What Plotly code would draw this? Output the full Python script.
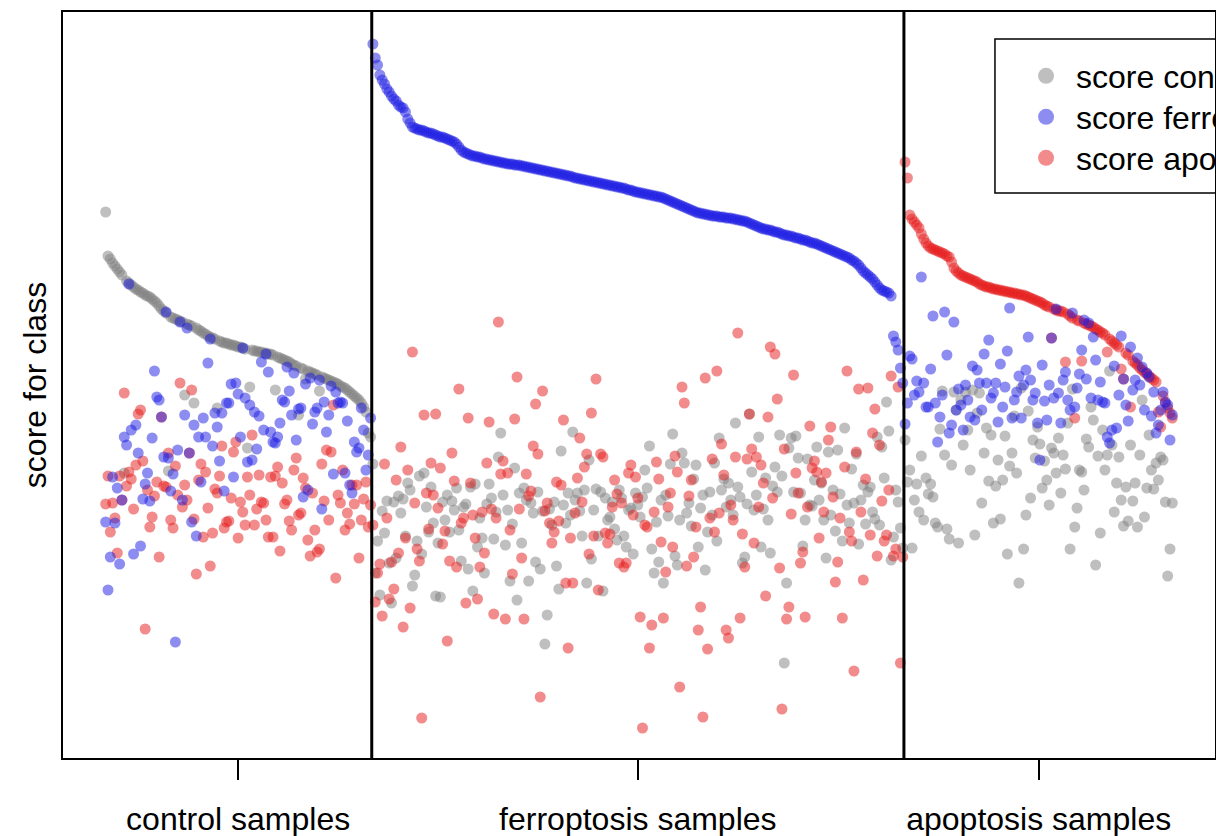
import plotly.graph_objects as go

# ---------------- data ----------------
group_labels = ["control samples", "ferroptosis samples", "apoptosis samples"]
series_labels = ["score control", "score ferroptosis", "score apoptosis"]
series_colors = ["rgba(128,128,128,0.5)", "rgba(28,28,228,0.5)", "rgba(230,25,25,0.5)"]

# control samples (sorted by control score)
ctrl_score_control = [
    546, 502, 499, 495, 492, 489, 486, 483, 285, 477,
    475, 473, 471, 469, 468, 466, 465, 463, 462, 461,
    459, 457, 455, 452, 449, 447, 445, 287, 441, 440,
    439, 438, 437, 436, 363, 434, 433, 432, 355, 430,
    428, 427, 425, 424, 422, 421, 420, 419, 350, 417,
    416, 415, 415, 414, 413, 413, 412, 411, 411, 410,
    409, 310, 371, 408, 407, 407, 406, 406, 405, 405,
    404, 404, 403, 368, 401, 400, 399, 398, 397, 396,
    394, 393, 392, 343, 390, 389, 379, 387, 386, 385,
    384, 383, 367, 381, 380, 379, 378, 377, 376, 375,
    374, 372, 371, 370, 368, 366, 364, 362, 360, 358,
    355, 351, 346, 325, 321]
ctrl_score_ferroptosis = [
    236, 168, 201, 281, 235, 270, 194, 258, 321, 313,
    474, 328, 204, 333, 305, 212, 259, 274, 285, 257,
    320, 387, 361, 358, 341, 301, 446, 300, 267, 284,
    116, 308, 436, 258, 343, 430, 305, 236, 333, 222,
    321, 276, 340, 321, 395, 419, 312, 345, 331, 297,
    345, 267, 355, 355, 374, 281, 375, 364, 321, 410,
    360, 296, 353, 298, 346, 309, 342, 396, 328, 404,
    386, 326, 316, 315, 321, 335, 358, 356, 391, 367,
    343, 385, 318, 349, 350, 261, 374, 268, 380, 334,
    346, 350, 378, 249, 356, 326, 343, 372, 284, 366,
    355, 356, 355, 285, 337, 273, 265, 316, 306, 310,
    350, 328, 288, 303, 340]
ctrl_score_apoptosis = [
    254, 282, 226, 255, 240, 205, 282, 258, 365, 272,
    286, 279, 249, 293, 344, 348, 297, 129, 268, 231,
    241, 262, 276, 201, 341, 272, 271, 305, 238, 230,
    292, 263, 375, 251, 273, 258, 305, 368, 239, 184,
    278, 294, 221, 286, 250, 192, 225, 269, 265, 282,
    312, 230, 236, 237, 260, 306, 316, 220, 256, 246,
    233, 281, 263, 323, 233, 249, 283, 256, 255, 238,
    221, 281, 221, 282, 291, 207, 275, 254, 258, 237,
    228, 288, 300, 243, 245, 280, 270, 218, 202, 265,
    228, 206, 209, 294, 257, 308, 238, 306, 353, 180,
    263, 255, 288, 228, 245, 234, 273, 254, 273, 200,
    238, 259, 276, 231, 253]

# ferroptosis samples (sorted by ferroptosis score)
ferro_score_control = [
    294, 185, 217, 163, 247, 225, 257, 195, 155, 256,
    200, 262, 245, 259, 222, 275, 268, 172, 183, 217,
    282, 204, 285, 251, 226, 271, 235, 162, 215, 161,
    256, 238, 263, 226, 257, 248, 270, 228, 197, 251,
    254, 189, 271, 167, 274, 211, 240, 220, 185, 254,
    274, 260, 219, 246, 301, 325, 263, 213, 248, 177,
    234, 290, 158, 265, 215, 270, 258, 177, 255, 245,
    196, 266, 189, 247, 114, 143, 249, 233, 256, 192,
    169, 307, 253, 235, 265, 243, 326, 258, 265, 247,
    222, 268, 175, 298, 199, 248, 269, 222, 266, 167,
    260, 238, 241, 256, 229, 218, 268, 260, 222, 211,
    248, 250, 204, 265, 253, 241, 261, 288, 270, 312,
    209, 185, 236, 196, 258, 175, 263, 242, 294, 324,
    202, 193, 238, 305, 295, 245, 255, 232, 279, 293,
    211, 250, 263, 188, 226, 266, 243, 295, 217, 320,
    268, 279, 251, 275, 258, 243, 335, 271, 261, 195,
    201, 254, 344, 286, 248, 263, 321, 211, 249, 280,
    238, 205, 272, 291, 266, 323, 282, 95, 175, 310,
    320, 266, 322, 300, 265, 212, 238, 299, 253, 252,
    278, 311, 258, 275, 238, 200, 306, 243, 268, 227,
    308, 264, 217, 330, 253, 235, 289, 255, 304, 214,
    258, 273, 234, 266, 271, 246, 239, 321, 233, 311,
    280, 356, 327, 198, 221, 268, 256, 230, 210]
ferro_score_ferroptosis = [
    714, 700, 693, 683, 678, 674, 669, 666, 662, 659,
    657, 653, 651, 650, 646, 639, 635, 631, 630, 629,
    628, 628, 627, 626, 625, 625, 624, 623, 622, 621,
    621, 620, 619, 618, 617, 616, 614, 611, 608, 606,
    605, 604, 603, 602, 602, 601, 601, 600, 599, 599,
    598, 598, 597, 597, 596, 596, 595, 595, 594, 594,
    594, 593, 593, 593, 592, 592, 591, 591, 590, 590,
    589, 589, 588, 588, 587, 587, 586, 586, 585, 585,
    584, 584, 583, 583, 582, 582, 581, 580, 580, 579,
    579, 578, 578, 577, 577, 576, 576, 575, 575, 574,
    574, 573, 573, 572, 572, 571, 571, 570, 570, 569,
    568, 568, 567, 566, 566, 565, 565, 564, 564, 563,
    563, 562, 562, 561, 561, 560, 559, 558, 557, 556,
    555, 554, 553, 552, 551, 550, 549, 548, 547, 546,
    545, 545, 544, 544, 543, 543, 542, 542, 542, 541,
    541, 541, 540, 540, 540, 539, 539, 538, 538, 537,
    537, 536, 535, 534, 533, 532, 531, 530, 529, 529,
    528, 528, 527, 526, 526, 525, 524, 523, 523, 522,
    522, 521, 520, 520, 519, 518, 518, 517, 516, 515,
    515, 514, 513, 512, 511, 510, 509, 508, 507, 506,
    505, 504, 503, 502, 501, 500, 498, 497, 495, 493,
    490, 487, 485, 483, 481, 479, 476, 473, 470, 468,
    467, 466, 465, 462, 422, 416, 408, 390, 375]
ferro_score_apoptosis = [
    233, 156, 185, 194, 142, 294, 240, 159, 196, 169,
    278, 205, 311, 131, 220, 288, 150, 406, 255, 209,
    197, 40, 343, 265, 229, 295, 263, 344, 250, 290,
    214, 227, 117, 197, 305, 277, 191, 369, 235, 240,
    155, 340, 275, 243, 220, 159, 191, 246, 205, 295,
    336, 249, 144, 240, 436, 284, 297, 139, 285, 228,
    184, 339, 381, 249, 200, 139, 284, 262, 267, 312,
    354, 304, 61, 367, 247, 255, 235, 215, 226, 276,
    237, 273, 338, 175, 110, 220, 175, 245, 280, 320,
    256, 291, 304, 204, 345, 222, 379, 168, 304, 301,
    225, 215, 224, 251, 278, 264, 195, 255, 191,
    195, 285, 293, 243, 281, 260, 141, 30, 233,
    231, 110, 133, 246, 296, 279, 216, 140, 186, 251,
    265, 211, 302, 286, 71, 371, 355, 192, 262, 278,
    201, 231, 128, 151, 41, 380, 109, 240, 299, 226,
    387, 245, 314, 283, 128, 120, 253, 238, 301,
    425, 140, 224, 191, 299, 344, 309, 215, 301, 251,
    293, 275, 162, 341, 411, 260, 404, 359, 190,
    49, 309, 139, 151, 244, 383, 285, 265, 195, 206,
    141, 251, 332, 290, 297, 286, 220, 276, 246,
    285, 318, 331, 261, 176, 196, 240, 140, 291, 387,
    226, 217, 87, 306, 369, 246, 178, 279, 370, 223,
    325, 349, 202, 313, 257, 217, 223, 268, 382,
    202, 209, 371, 95, 201]

# apoptosis samples (sorted by apoptosis score)
apop_score_control = [
    318, 276, 288, 210, 258, 274, 246, 302, 238, 280,
    264, 274, 261, 235, 231, 329, 367, 303, 229, 219,
    293, 366, 348, 215, 358, 313, 366, 328, 288, 368,
    223, 345, 365, 255, 305, 330, 277, 323, 235, 272,
    298, 239, 278, 322, 204, 292, 305, 342, 285, 175,
    370, 209, 243, 347, 260, 318, 300, 331, 314, 270,
    297, 278, 253, 310, 305, 285, 320, 265, 303, 289,
    335, 209, 369, 231, 250, 288, 286, 268, 319, 311,
    351, 338, 193, 302, 225, 328, 288, 303, 387, 313,
    246, 275, 301, 258, 232, 271, 237, 313, 257, 275,
    231, 303, 358, 241, 270, 323, 288, 269, 295, 278,
    301, 298, 256, 182, 209, 255]
apop_score_ferroptosis = [
    334, 355, 402, 399, 363, 377, 366, 481, 375, 351,
    351, 389, 442, 355, 316, 341, 363, 446, 403, 325,
    333, 436, 348, 369, 353, 328, 373, 358, 341, 392,
    338, 388, 375, 348, 404, 375, 418, 360, 365, 375,
    336, 394, 351, 371, 407, 450, 340, 358, 366, 382,
    340, 373, 388, 421, 378, 358, 365, 335, 298, 393,
    357, 338, 373, 420, 360, 449, 365, 335, 378, 386,
    358, 348, 445, 351, 370, 384, 408, 438, 379, 435,
    360, 421, 398, 358, 376, 356, 355, 321, 315, 328,
    392, 330, 363, 422, 379, 353, 337, 411, 368, 378,
    400, 373, 391, 348, 385, 381, 342, 366, 325, 333,
    348, 366, 356, 353, 318, 343]
apop_score_apoptosis = [
    596, 580, 543, 539, 536, 533, 530, 524, 519, 515,
    512, 510, 509, 508, 507, 506, 505, 504, 502, 501,
    496, 490, 487, 485, 483, 482, 481, 480, 479, 478,
    477, 476, 474, 473, 472, 471, 471, 470, 469, 469,
    468, 468, 467, 467, 466, 466, 465, 465, 464, 464,
    463, 463, 462, 461, 460, 459, 458, 457, 456, 455,
    453, 452, 451, 420, 449, 448, 447, 447, 446, 396,
    444, 442, 440, 340, 438, 437, 397, 435, 434, 433,
    432, 431, 429, 428, 426, 425, 423, 406, 419, 417,
    415, 413, 411, 389, 379, 405, 403, 351, 397, 395,
    393, 390, 388, 386, 384, 382, 380, 378, 376, 346,
    331, 362, 355, 350, 345, 340]

# ---------------- assemble ----------------
groups = [
    [ctrl_score_control, ctrl_score_ferroptosis, ctrl_score_apoptosis],
    [ferro_score_control, ferro_score_ferroptosis, ferro_score_apoptosis],
    [apop_score_control, apop_score_ferroptosis, apop_score_apoptosis],
]
sizes = [len(g[k]) for g, k in zip(groups, [0, 1, 2])]
starts = [0, sizes[0], sizes[0] + sizes[1]]
N = sum(sizes)

series_x = [[], [], []]
series_y = [[], [], []]
for g, s0 in zip(groups, starts):
    for k in range(3):
        vals = g[k]
        series_x[k].extend(range(s0 + 1, s0 + 1 + len(vals)))
        series_y[k].extend(vals)

fig = go.Figure()
FONT = "Liberation Sans, Arial, Helvetica, sans-serif"

# drawing order: control, apoptosis, ferroptosis
for k in [0, 2, 1]:
    fig.add_trace(go.Scatter(
        x=series_x[k], y=series_y[k], mode="markers",
        marker=dict(size=11, color=series_colors[k], line=dict(width=0)),
        name=series_labels[k], showlegend=False, hoverinfo="skip"))

# legend entries: one small legend per entry so the line spacing matches
legend_names = ["legend", "legend2", "legend3"]
legend_y = [0.9142, 0.8592, 0.8043]
for k in range(3):
    fig.add_trace(go.Scatter(
        x=[None], y=[None], mode="markers",
        marker=dict(size=16, color=series_colors[k], line=dict(width=0)),
        name=series_labels[k], showlegend=True, legend=legend_names[k]))

pad = 0.04 * (N - 1)
centers = [s0 + (n + 1) / 2 for s0, n in zip(starts, sizes)]

shapes = []
for b in starts[1:]:
    shapes.append(dict(type="line", xref="x", yref="paper", x0=b + 0.5, x1=b + 0.5,
                       y0=0, y1=1, line=dict(color="black", width=3)))
# legend frame
shapes.append(dict(type="rect", xref="paper", yref="paper", x0=0.809, x1=1.05,
                   y0=0.7574, y1=0.9638, line=dict(color="black", width=1.5)))

legend_common = dict(x=0.8273, xanchor="left", yanchor="middle",
                     bgcolor="rgba(0,0,0,0)", borderwidth=0, itemwidth=50,
                     font=dict(family=FONT, size=32, color="black"))
legend_layouts = {name: dict(legend_common, y=yv) for name, yv in zip(legend_names, legend_y)}

fig.update_layout(
    width=1216, height=836,
    margin=dict(l=63, r=1, t=12, b=78, autoexpand=False),
    paper_bgcolor="white", plot_bgcolor="white",
    font=dict(family=FONT, size=32, color="black"),
    showlegend=True,
    shapes=shapes,
    xaxis=dict(range=[1 - pad, N + pad], tickmode="array", tickvals=centers,
               ticktext=group_labels, ticks="outside", ticklen=20, tickwidth=1.5,
               tickcolor="black", showline=True, mirror=True, linecolor="black",
               linewidth=2, showgrid=False, zeroline=False, ticklabelstandoff=12,
               tickfont=dict(family=FONT, size=32, color="black")),
    yaxis=dict(range=[0, 746], showticklabels=False, ticks="", showline=True,
               mirror=True, linecolor="black", linewidth=2, showgrid=False,
               zeroline=False,
               title=dict(text="score for class", standoff=5,
                          font=dict(family=FONT, size=32, color="black"))),
    **legend_layouts,
)

fig.write_html("out.html")
